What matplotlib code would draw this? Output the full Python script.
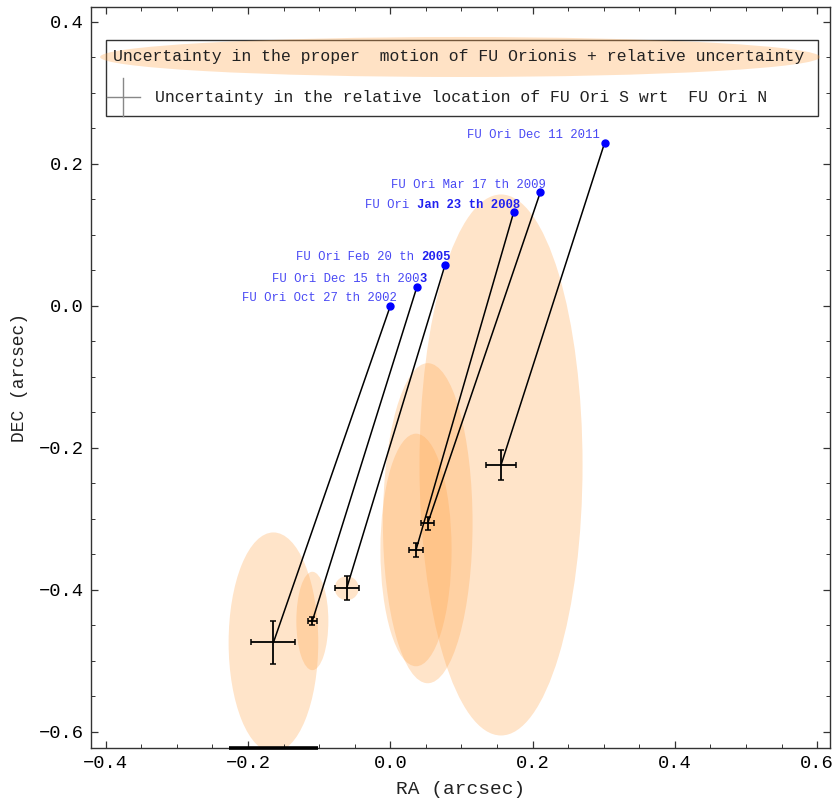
"""FU Ori S relative to FU Ori N: epochs, error crosses and proper-motion ellipses."""
import matplotlib
matplotlib.use("Agg")
import matplotlib.pyplot as plt
from matplotlib.patches import Ellipse, Rectangle
from matplotlib.ticker import MultipleLocator, FuncFormatter

plt.rcParams["font.family"] = ["Liberation Mono", "DejaVu Sans Mono"]

# FU Ori N positions per epoch (arcsec)
north_ra = [0.0, 0.0375, 0.0769, 0.1734, 0.2108, 0.3013]
north_dec = [0.0, 0.0272, 0.0577, 0.1320, 0.1600, 0.2300]
# label text, split into plain and bold tails
label_plain = ["FU Ori Oct 27 th 2002", "FU Ori Dec 15 th 200", "FU Ori Feb 20 th ",
               "FU Ori ", "FU Ori Mar 17 th 2009", "FU Ori Dec 11 2011"]
label_bold = ["", "3", "2005", "Jan 23 th 2008", "", ""]

# FU Ori S positions and their error bars
south_ra = [-0.1643, -0.1096, -0.0613, 0.0361, 0.0526, 0.1556]
south_dec = [-0.4740, -0.4437, -0.3976, -0.3437, -0.3060, -0.2240]
south_ra_err = [0.031, 0.006, 0.017, 0.0094, 0.0094, 0.021]
south_dec_err = [0.0306, 0.006, 0.017, 0.0094, 0.0094, 0.0207]

# proper-motion uncertainty ellipses (semi-axes)
ell_ra = [0.063, 0.0225, 0.0169, 0.050, 0.063, 0.1146]
ell_dec = [0.155, 0.0693, 0.0169, 0.1638, 0.2254, 0.381]

label_dx = [6.4, 9.7, 6.0, 6.3, 5.7, -4.7]   # px, right edge of label vs dot
fs_lab = 8.85

fig = plt.figure(figsize=(8.35, 7.99), dpi=100)
ax = fig.add_axes([0.109, 0.0635, 0.885, 0.9274])
ax.set_xlim(-0.4207, 0.618)
ax.set_ylim(-0.623, 0.4207)

for x, y, a, b in zip(south_ra, south_dec, ell_ra, ell_dec):
    ax.add_patch(Ellipse((x, y), 2 * a, 2 * b, facecolor="#ffa64d", alpha=0.3,
                         edgecolor="none", zorder=1))

# odd dark strip on the bottom frame under the first ellipse
ax.plot([south_ra[0] - ell_ra[0], south_ra[0] + ell_ra[0]], [-0.623, -0.623],
        color="k", lw=2.6, clip_on=False, solid_capstyle="butt", zorder=5)

for i in range(len(north_ra)):
    ax.plot([north_ra[i], south_ra[i]], [north_dec[i], south_dec[i]],
            color="k", lw=1.1, zorder=3)
ax.errorbar(south_ra, south_dec, xerr=south_ra_err, yerr=south_dec_err, fmt="none",
            ecolor="k", elinewidth=1.3, capsize=2.2, capthick=1.1, zorder=4)
ax.plot(north_ra, north_dec, "o", color="#0000ff", ms=5, zorder=5)

px = 0.72  # points per pixel at dpi 100
for i in range(len(north_ra)):
    dx = label_dx[i] * px
    dy = 7.7 * px
    nb = len(label_bold[i])
    if nb:
        ax.annotate(label_bold[i], (north_ra[i], north_dec[i]), xytext=(dx, dy),
                    textcoords="offset points", ha="right", va="center",
                    fontsize=fs_lab, color="#2020f0", fontweight="bold")
    ax.annotate(label_plain[i], (north_ra[i], north_dec[i]),
                xytext=(dx - nb * 0.6 * fs_lab, dy), textcoords="offset points",
                ha="right", va="center", fontsize=fs_lab, color="#4848f4")

# legend drawn by hand
ax.add_patch(Rectangle((0.0203, 0.853), 0.9635, 0.1029, transform=ax.transAxes,
                       facecolor="white", edgecolor="#333333", lw=1.0, zorder=6))
ax.add_patch(Ellipse((0.4993, 0.9329), 0.974, 0.054, transform=ax.transAxes,
                     facecolor="#ffa64d", alpha=0.32, edgecolor="none", zorder=7))
ax.text(0.0298, 0.9329, "Uncertainty in the proper  motion of FU Orionis + relative uncertainty",
        transform=ax.transAxes, fontsize=11.9, va="center", ha="left", color="#222222", zorder=8)
ax.plot([0.0217, 0.0663], [0.8789, 0.8789], transform=ax.transAxes, color="#888888", lw=1, zorder=8)
ax.plot([0.0433, 0.0433], [0.853, 0.9046], transform=ax.transAxes, color="#888888", lw=1, zorder=8)
ax.text(0.0866, 0.8789, "Uncertainty in the relative location of FU Ori S wrt  FU Ori N",
        transform=ax.transAxes, fontsize=11.9, va="center", ha="left", color="#222222", zorder=8)

ax.xaxis.set_major_locator(MultipleLocator(0.2))
ax.xaxis.set_minor_locator(MultipleLocator(0.05))
ax.yaxis.set_major_locator(MultipleLocator(0.2))
ax.yaxis.set_minor_locator(MultipleLocator(0.05))
fmt = FuncFormatter(lambda v, p: f"{v:.1f}".replace("-", "\u2212"))
ax.xaxis.set_major_formatter(fmt)
ax.yaxis.set_major_formatter(fmt)
ax.tick_params(which="both", direction="in", top=True, right=True, color="#333333",
               labelsize=13.5, pad=5)
ax.tick_params(which="major", length=5, width=0.9)
ax.tick_params(which="minor", length=3, width=0.7)
for s in ax.spines.values():
    s.set_color("#333333")
    s.set_linewidth(1.0)

ax.set_xlabel("RA (arcsec)", fontsize=14, color="#222222", labelpad=6)
ax.set_ylabel("DEC (arcsec)", fontsize=13, color="#222222", labelpad=8)

fig.savefig("out.png", dpi=100)
